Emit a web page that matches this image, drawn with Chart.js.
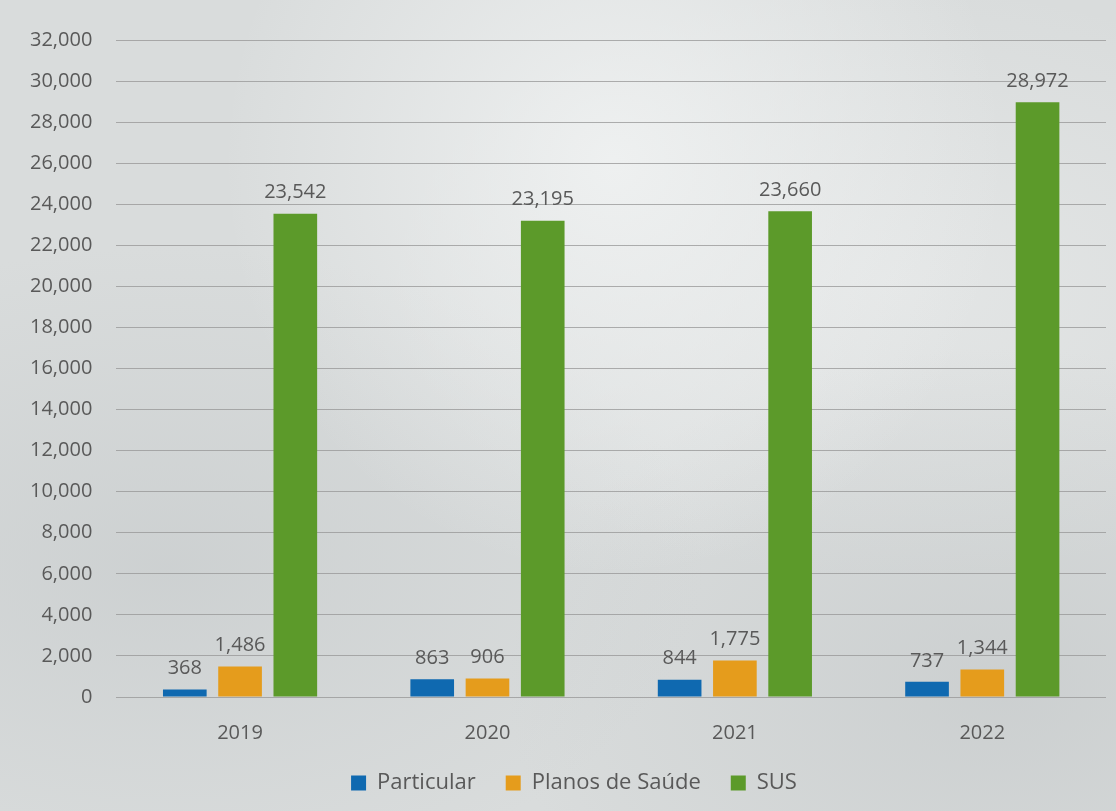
<!DOCTYPE html>
<html lang="pt">
<head>
    <meta charset="UTF-8">
    <title>Particular, Planos de Saúde e SUS</title>
    <script src="https://cdn.jsdelivr.net/npm/chart.js"></script>
    <style>
        html, body {
            margin: 0;
            padding: 0;
            width: 1116px;
            height: 811px;
            overflow: hidden;
        }
        body {
            background-color: #d9dcdc;
            background-image:
                radial-gradient(ellipse at 55% 20%, rgba(240,242,242,0.9) 0%, rgba(240,242,242,0) 45%),
                radial-gradient(ellipse at 15% 70%, rgba(200,204,205,0.7) 0%, rgba(200,204,205,0) 40%),
                radial-gradient(ellipse at 90% 85%, rgba(195,199,200,0.6) 0%, rgba(195,199,200,0) 35%),
                radial-gradient(ellipse at 80% 35%, rgba(232,234,234,0.7) 0%, rgba(232,234,234,0) 40%);
            font-family: "Open Sans", "Noto Sans", sans-serif;
        }
        .wrap {
            position: absolute;
            left: 0;
            top: 0;
            width: 1116px;
            height: 811px;
        }
    </style>
</head>
<body>
    <div class="wrap"><canvas id="chart" width="1116" height="811"></canvas></div>

    <script>
        const years = ['2019', '2020', '2021', '2022'];
        const particular = [368, 863, 844, 737];
        const planosDeSaude = [1486, 906, 1775, 1344];
        const sus = [23542, 23195, 23660, 28972];

        const textColor = '#595959';
        const fontFamily = '"Open Sans", "Noto Sans", sans-serif';
        const fmt = v => v.toLocaleString('en-US');

        // value labels above each bar
        const valueLabels = {
            id: 'valueLabels',
            afterDatasetsDraw(chart) {
                const ctx = chart.ctx;
                ctx.save();
                ctx.font = '20px ' + fontFamily;
                ctx.fillStyle = textColor;
                ctx.textAlign = 'center';
                ctx.textBaseline = 'bottom';
                chart.data.datasets.forEach((ds, i) => {
                    chart.getDatasetMeta(i).data.forEach((bar, j) => {
                        ctx.fillText(fmt(ds.data[j]), bar.x, bar.y - 11);
                    });
                });
                ctx.restore();
            }
        };

        // nudge the legend a bit to the right, like in the original
        const legendShift = {
            id: 'legendShift',
            afterLayout(chart) {
                chart.legend.left += 18;
                chart.legend.right += 18;
            }
        };

        new Chart(document.getElementById('chart'), {
            type: 'bar',
            data: {
                labels: years,
                datasets: [
                    { label: 'Particular', data: particular, backgroundColor: '#0f69b0' },
                    { label: 'Planos de Saúde', data: planosDeSaude, backgroundColor: '#e59c1c' },
                    { label: 'SUS', data: sus, backgroundColor: '#5c9a2a' }
                ]
            },
            options: {
                responsive: false,
                animation: false,
                layout: { padding: { left: 6, right: 10, top: 40, bottom: 7 } },
                datasets: {
                    bar: { categoryPercentage: 0.67, barPercentage: 0.79 }
                },
                scales: {
                    x: {
                        grid: { display: false },
                        border: { display: false },
                        ticks: {
                            color: textColor,
                            font: { size: 20, family: fontFamily },
                            padding: 16
                        },
                        // let the legend sit closer to the year labels
                        afterFit: scale => { scale.height -= 19; }
                    },
                    y: {
                        min: 0,
                        max: 32000,
                        grid: { color: 'rgba(150,150,150,0.75)', lineWidth: 1, drawTicks: false },
                        border: { display: false },
                        ticks: {
                            stepSize: 2000,
                            color: textColor,
                            padding: 24,
                            font: { size: 20, family: fontFamily },
                            callback: v => fmt(v)
                        }
                    }
                },
                plugins: {
                    legend: {
                        position: 'bottom',
                        labels: {
                            color: textColor,
                            font: { size: 22, family: fontFamily },
                            boxWidth: 15,
                            boxHeight: 15,
                            padding: 30
                        }
                    },
                    tooltip: { enabled: false }
                }
            },
            plugins: [valueLabels, legendShift]
        });
    </script>
</body>
</html>
